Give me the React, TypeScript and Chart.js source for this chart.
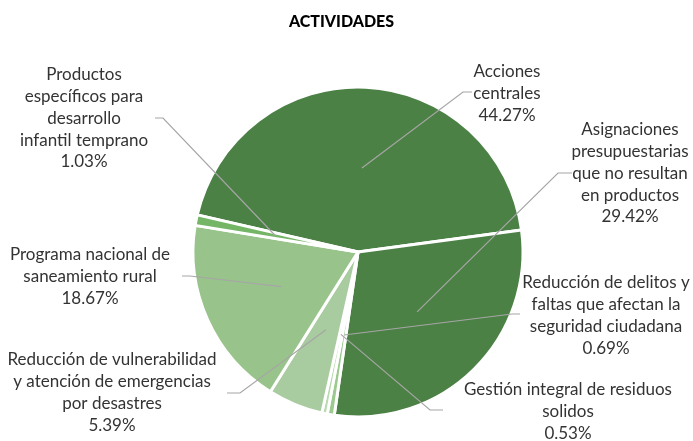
import React, { useEffect, useRef } from 'react';
import { Chart, registerables } from 'chart.js';

Chart.register(...registerables);

const chartTitle = 'ACTIVIDADES';

const categories = [
  'Acciones centrales',
  'Asignaciones presupuestarias que no resultan en productos',
  'Reducción de delitos y faltas que afectan la seguridad ciudadana',
  'Gestión integral de residuos solidos',
  'Reducción de vulnerabilidad y atención de emergencias por desastres',
  'Programa nacional de saneamiento rural',
  'Productos específicos para desarrollo infantil temprano',
];

const labelLines = [
  ['Acciones', 'centrales'],
  ['Asignaciones', 'presupuestarias', 'que no resultan', 'en productos'],
  ['Reducción de delitos y', 'faltas que afectan la', 'seguridad ciudadana'],
  ['Gestión integral de residuos', 'solidos'],
  ['Reducción de vulnerabilidad', 'y atención de emergencias', 'por desastres'],
  ['Programa nacional de', 'saneamiento rural'],
  ['Productos', 'específicos para', 'desarrollo', 'infantil temprano'],
];

const percentages = [44.27, 29.42, 0.69, 0.53, 5.39, 18.67, 1.03];

const sliceColors = ['#4C8146', '#4C8146', '#9CC98E', '#B9DAAE', '#A9CBA0', '#98C38B', '#74B566'];

// label layout relative to pie centre: [text centre dx, first line dy]
const labelOffsets = [
  [149, -180],
  [272, -122],
  [248, 31],
  [210, 138],
  [-246, 108],
  [-268, 3],
  [-274, -177],
];
// leader stub relative to pie centre: [startX, y, elbowX]
const leaderStubs = [
  [114, -160, 105],
  [214, -79, 200],
  [162, 62, 154],
  [85, 158, 72],
  [-131, 141, -118],
  [-176, 24, -168],
  [-203, -134, -195],
];

const FONT = 'Lato, "Liberation Sans", sans-serif';

const labelPlugin = {
  id: 'excelLabels',
  afterDatasetsDraw(chart: any) {
    const ctx = chart.ctx;
    const meta = chart.getDatasetMeta(0);
    ctx.save();
    // title
    ctx.fillStyle = '#000000';
    ctx.font = `900 16px ${FONT}`;
    ctx.textAlign = 'center';
    ctx.textBaseline = 'middle';
    ctx.fillText(chartTitle, chart.width / 2 - 5, 22);

    meta.data.forEach((arc: any, i: number) => {
      const { x, y, startAngle, endAngle, outerRadius } = arc.getProps(
        ['x', 'y', 'startAngle', 'endAngle', 'outerRadius'],
        true
      );
      const mid = (startAngle + endAngle) / 2;
      const px = x + Math.cos(mid) * outerRadius * 0.51;
      const py = y + Math.sin(mid) * outerRadius * 0.51;
      const [sx, sy, ex] = leaderStubs[i];
      ctx.beginPath();
      ctx.strokeStyle = '#A6A6A6';
      ctx.lineWidth = 1.2;
      ctx.moveTo(x + sx, y + sy);
      ctx.lineTo(x + ex, y + sy);
      ctx.lineTo(px, py);
      ctx.stroke();

      const lines = [...labelLines[i], percentages[i].toFixed(2) + '%'];
      const [lx, ly] = labelOffsets[i];
      ctx.fillStyle = '#333333';
      ctx.font = `17px ${FONT}`;
      ctx.textAlign = 'center';
      ctx.textBaseline = 'middle';
      lines.forEach((t, k) => {
        ctx.fillText(t, x + lx, y + ly + k * 21.7);
      });
    });
    ctx.restore();
  },
};

export default function App() {
  const canvasRef = useRef<HTMLCanvasElement>(null);

  useEffect(() => {
    if (!canvasRef.current) return;
    const chart = new Chart(canvasRef.current, {
      type: 'pie',
      data: {
        labels: categories,
        datasets: [
          {
            data: percentages,
            backgroundColor: sliceColors,
            borderColor: '#FFFFFF',
            borderWidth: 3,
          },
        ],
      },
      options: {
        animation: false,
        responsive: true,
        maintainAspectRatio: false,
        radius: 165,
        rotation: -77,
        layout: { padding: { top: 63, left: 23, right: 0, bottom: 0 } },
        plugins: {
          legend: { display: false },
          tooltip: { enabled: false },
          title: { display: false },
        },
      },
      plugins: [labelPlugin],
    });
    return () => chart.destroy();
  }, []);

  return (
    <div style={{ position: 'fixed', left: 0, top: 0, width: 693, height: 441, background: '#fff' }}>
      <canvas ref={canvasRef} />
    </div>
  );
}
